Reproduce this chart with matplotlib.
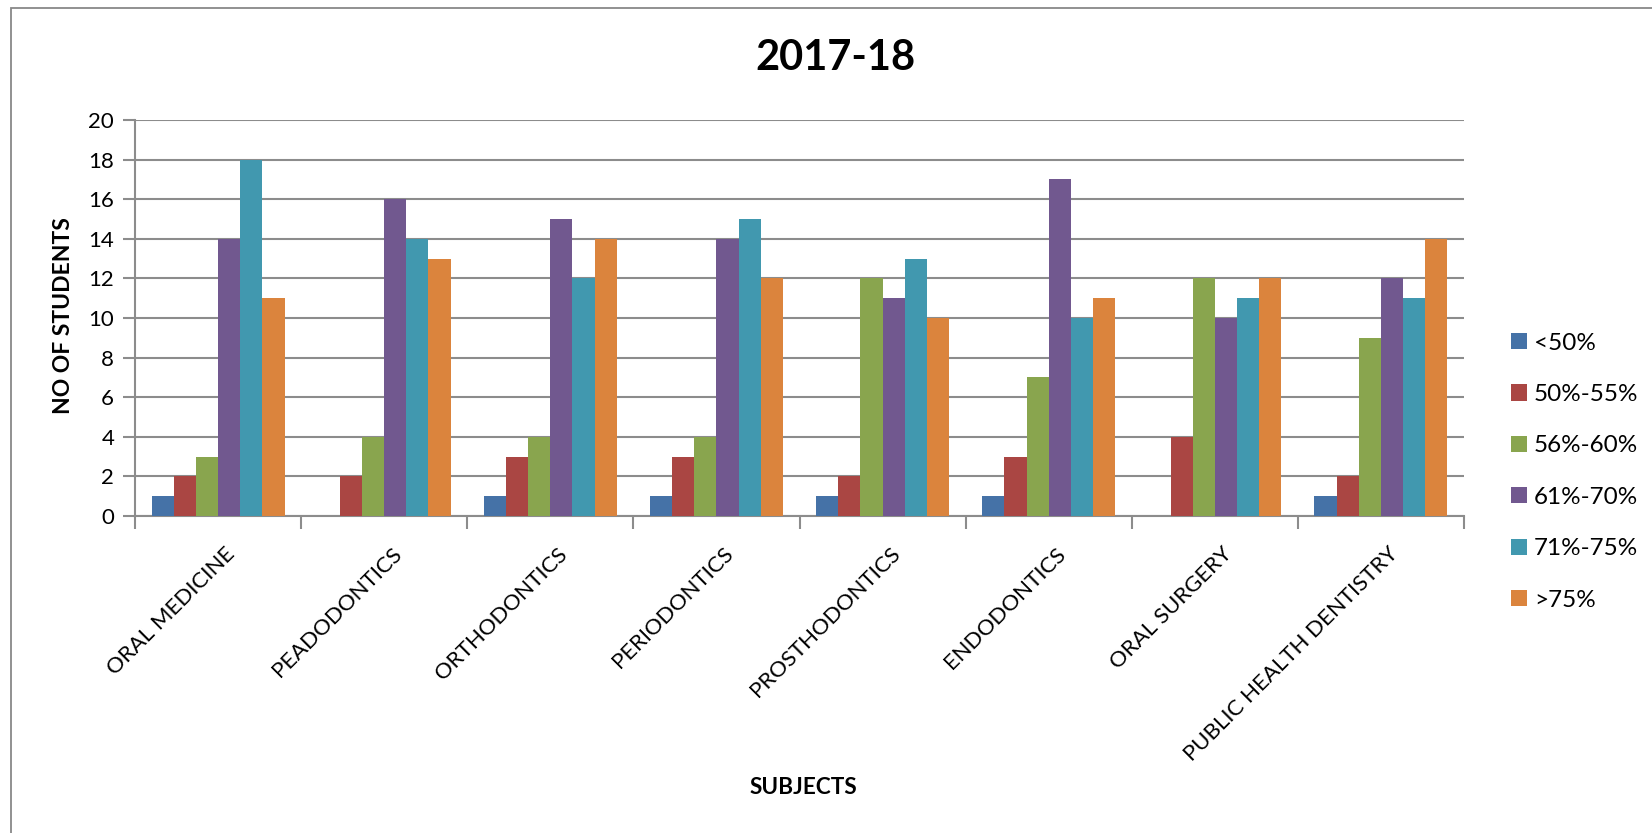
import matplotlib
matplotlib.use("Agg")
import matplotlib.pyplot as plt
import numpy as np
from matplotlib.patches import Rectangle
from matplotlib.transforms import ScaledTranslation

categories = ["ORAL MEDICINE", "PEADODONTICS", "ORTHODONTICS", "PERIODONTICS",
              "PROSTHODONTICS", "ENDODONTICS", "ORAL SURGERY", "PUBLIC HEALTH DENTISTRY"]
series_names = ["<50%", "50%-55%", "56%-60%", "61%-70%", "71%-75%", ">75%"]
lt50 = [1, 0, 1, 1, 1, 1, 0, 1]
p50_55 = [2, 2, 3, 3, 2, 3, 4, 2]
p56_60 = [3, 4, 4, 4, 12, 7, 12, 9]
p61_70 = [14, 16, 15, 14, 11, 17, 10, 12]
p71_75 = [18, 14, 12, 15, 13, 10, 11, 11]
gt75 = [11, 13, 14, 12, 10, 11, 12, 14]
series = [lt50, p50_55, p56_60, p61_70, p71_75, gt75]
colors = ["#4572A7", "#AA4643", "#89A54E", "#71588F", "#4198AF", "#DB843D"]
yticks = [0, 2, 4, 6, 8, 10, 12, 14, 16, 18, 20]

plt.rcParams['font.family'] = ['Lato', 'DejaVu Sans']

fig = plt.figure(figsize=(16.52, 8.33), dpi=100)
fig.patches.append(Rectangle((11/1652, -0.1), 2.0, 1 - 8/833 + 0.1, transform=fig.transFigure,
                             fill=False, edgecolor="#888888", linewidth=1.3))
ax = fig.add_axes([135/1652, 1 - 516/833, (1464 - 135)/1652, (516 - 120)/833])

n = len(categories)
x = np.arange(n)
w = 0.8 / len(series)
for i, (vals, c, name) in enumerate(zip(series, colors, series_names)):
    offs = -0.4 + w * (i + 0.5)
    ax.bar(x + offs, vals, width=w, color=c, label=name, zorder=3, linewidth=0)

ax.set_xlim(-0.5, n - 0.5)
ax.set_ylim(0, 20)
ax.set_yticks(yticks)
ax.set_yticklabels([str(v) for v in yticks], fontsize=16)
ax.yaxis.grid(True, color="#8c8c8c", linewidth=1.5, zorder=0)
ax.set_axisbelow(True)

ax.set_xticks(np.arange(-0.5, n, 1.0))
ax.set_xticklabels([])
ax.set_xticks(x, minor=True)
ax.set_xticklabels(categories, minor=True, rotation=45, ha="right", va="top",
                   rotation_mode="anchor", fontsize=16)
ax.tick_params(axis="x", which="minor", length=0, pad=20)
ax.tick_params(axis="x", which="major", length=9, color="#8c8c8c", width=1.5)
ax.tick_params(axis="y", length=9, color="#8c8c8c", width=1.5, pad=6)
for lbl in ax.get_xticklabels(minor=True):
    lbl.set_transform(lbl.get_transform() + ScaledTranslation(7/100, 0, fig.dpi_scale_trans))

for s in ["top", "right"]:
    ax.spines[s].set_visible(False)
for s in ["left", "bottom"]:
    ax.spines[s].set_color("#8c8c8c")
    ax.spines[s].set_linewidth(1.5)

fig.text(835/1652, 1 - 58/833, "2017-18", ha="center", va="center",
         fontsize=30, fontweight="bold")
fig.text(63/1652, 1 - 316/833, "NO OF STUDENTS", ha="center", va="center",
         rotation=90, fontsize=16.5, fontweight="bold")
fig.text(803/1652, 1 - 788/833, "SUBJECTS", ha="center", va="center",
         fontsize=16.3, fontweight="bold")

leg = fig.legend(loc="upper left", bbox_to_anchor=(1501/1652, 1 - 323/833),
                 frameon=False, fontsize=17.5, handlelength=0.65, handleheight=0.65,
                 handletextpad=0.3, labelspacing=1.25, borderaxespad=0)

fig.savefig("out.png", dpi=100)
